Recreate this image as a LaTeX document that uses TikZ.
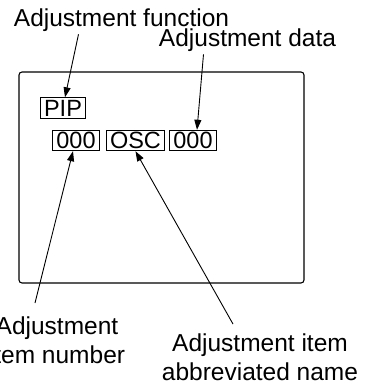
\documentclass[tikz,border=0pt]{standalone}
\usepackage{fontspec}
\setmainfont{Liberation Sans}
\usetikzlibrary{arrows.meta}
\begin{document}
\begin{tikzpicture}[x=1pt,y=-1pt,
      kotak/.style={draw,line width=0.9pt,inner xsep=3.5pt,inner ysep=2pt,
        text height=16.5pt,text depth=0pt,font=\fontsize{23.5}{23.5}\selectfont},
      ket/.style={align=center,inner sep=2pt,anchor=base,
        font=\fontsize{24.5}{29}\selectfont},
      panah/.style={line width=0.9pt,-{Triangle[length=10pt,width=7pt]}},
      tebal/.style={line width=1.1pt}]
    \useasboundingbox (0,0) rectangle (373,385);
    \clip (0,0) rectangle (373,385);

    % Layar
    \draw[tebal,rounded corners=3pt] (19,72) rectangle (304,283);
    \node[kotak] (pip) at (63,108) {PIP};
    \node[kotak] (nomor) at (76,140.5) {000};
    \node[kotak] (osc) at (135.5,140.5) {OSC};
    \node[kotak] (data) at (193,140.5) {000};

    % Keterangan
    \node[ket] (kfungsi) at (121.5,27) {Adjustment function};
    \node[ket] (kdata) at (247.5,47) {Adjustment data};
    \node[ket] (knomor) at (57,363) {Adjustment\\item number};
    \node[ket] (knama) at (260,380) {Adjustment item\\abbreviated name};

    \draw[panah] ([xshift=-43pt]kfungsi.south) -- ([xshift=2pt]pip.north);
    \draw[panah] ([xshift=-44pt]kdata.south) -- ([xshift=4pt]data.north);
    \draw[panah] ([shift={(-22pt,11pt)}]knomor.north) -- ([xshift=-3pt]nomor.south);
    \draw[panah] ([shift={(-27pt,7pt)}]knama.north) -- (osc.south);
  \end{tikzpicture}
\end{document}
